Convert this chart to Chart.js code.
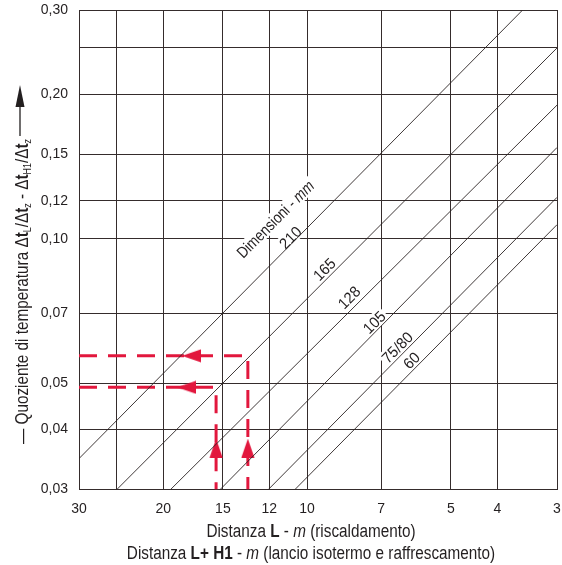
<!DOCTYPE html>
<html><head><meta charset="utf-8">
<script src="https://cdn.jsdelivr.net/npm/chart.js@4.4.1/dist/chart.umd.min.js"></script>
<style>html,body{margin:0;padding:0;background:#fff}#wrap{width:562px;height:565px;position:relative}</style>
</head><body><div id="wrap"><canvas id="c" width="562" height="565"></canvas></div>
<script>
// ---- data ----
const xTicks = [30, 25, 20, 15, 12, 10, 7, 5, 4, 3];
const yTicks = [0.30, 0.25, 0.20, 0.15, 0.12, 0.10, 0.07, 0.05, 0.04, 0.03];
const sizeNames = ['210', '165', '128', '105', '75/80', '60'];
const line210 = [{x: 30, y: 0.0348}, {x: 3.54, y: 0.30}];
const line165 = [{x: 25, y: 0.03}, {x: 3, y: 0.25}];
const line128 = [{x: 19.3, y: 0.03}, {x: 3, y: 0.19}];
const line105 = [{x: 15.2, y: 0.03}, {x: 3, y: 0.155}];
const line7580 = [{x: 12.05, y: 0.03}, {x: 3, y: 0.122}];
const line60 = [{x: 10.6, y: 0.03}, {x: 3, y: 0.107}];
const pathUpper = [{x: 30, y: 0.057}, {x: 13.3, y: 0.057}, {x: 13.3, y: 0.03}];
const pathLower = [{x: 30, y: 0.049}, {x: 15.5, y: 0.049}, {x: 15.5, y: 0.03}];
const arrowsLeft = [{x: 17.45, y: 0.057}, {x: 17.87, y: 0.049}];
const arrowsUp = [{x: 13.3, y: 0.0366}, {x: 15.5, y: 0.0366}];
// label anchors (data coordinates): "Dimensioni - mm", then one per size
const labelAnchorsX = [11.66, 10.85, 9.21, 8.17, 7.24, 6.48, 6.05];
const labelAnchorsY = [0.110, 0.1007, 0.0864, 0.0755, 0.067, 0.0594, 0.0558];

const FAM = '"Liberation Sans", Arial, sans-serif';
const GRID = '#352c2c';
const RED = '#e2173d';
const TXT = '#231f20';

// arrowhead marker (points up; rotated by Chart.js for the left arrows)
const arrowImg = document.createElement('canvas');
arrowImg.width = 14; arrowImg.height = 19;
(function () {
  const g = arrowImg.getContext('2d');
  g.fillStyle = RED;
  g.beginPath(); g.moveTo(7, 0); g.lineTo(13.5, 19); g.lineTo(0.5, 19); g.closePath(); g.fill();
})();

function runFont(r, size) {
  return (r.i ? 'italic ' : '') + (r.b ? 'bold ' : '') + size + 'px ' + FAM;
}
function measureRuns(ctx, runs, size, sx) {
  let w = 0;
  for (const r of runs) {
    const s = r.sub ? size * 0.58 : size;
    ctx.font = runFont(r, s);
    w += ctx.measureText(r.t).width * sx;
  }
  return w;
}
function drawRuns(ctx, runs, x, y, size, sx) {
  let cx = x;
  for (const r of runs) {
    const s = r.sub ? size * 0.58 : size;
    ctx.font = runFont(r, s);
    ctx.save();
    ctx.translate(cx, y + (r.sub ? size * 0.22 : 0));
    ctx.scale(sx, 1);
    ctx.fillText(r.t, 0, 0);
    ctx.restore();
    cx += ctx.measureText(r.t).width * sx;
  }
  return cx;
}

const labelRuns = [
  {runs: [{t: 'Dimensioni - '}, {t: 'mm', i: 1}], size: 16, sx: 0.85},
].concat(sizeNames.map(n => ({runs: [{t: n}], size: 15.5, sx: 0.95})));

const labelPlugin = {
  id: 'lineLabels',
  beforeDatasetsDraw(chart) {
    const {ctx, scales: {x, y}} = chart;
    labelRuns.forEach((l, i) => {
      const px = x.getPixelForValue(labelAnchorsX[i]);
      const py = y.getPixelForValue(labelAnchorsY[i]);
      ctx.save();
      ctx.translate(px, py);
      ctx.rotate(-Math.PI / 4);
      const w = measureRuns(ctx, l.runs, l.size, l.sx);
      ctx.fillStyle = '#fff';
      ctx.fillRect(-w / 2 - 2, -l.size * 0.5, w + 4, l.size * 1.0);
      ctx.restore();
    });
  },
  afterDatasetsDraw(chart) {
    const {ctx, scales: {x, y}} = chart;
    labelRuns.forEach((l, i) => {
      const px = x.getPixelForValue(labelAnchorsX[i]);
      const py = y.getPixelForValue(labelAnchorsY[i]);
      ctx.save();
      ctx.translate(px, py);
      ctx.rotate(-Math.PI / 4);
      ctx.fillStyle = TXT;
      ctx.textBaseline = 'alphabetic';
      const w = measureRuns(ctx, l.runs, l.size, l.sx);
      drawRuns(ctx, l.runs, -w / 2, l.size * 0.36, l.size, l.sx);
      ctx.restore();
    });
  },
  afterDraw(chart) {
    const {ctx} = chart;
    ctx.save();
    ctx.fillStyle = TXT;
    ctx.textBaseline = 'alphabetic';
    const cx = 311;
    const fs = 18, sx = 0.85;
    const l1 = [{t: 'Distanza '}, {t: 'L', b: 1}, {t: ' - '}, {t: 'm', i: 1}, {t: ' (riscaldamento)'}];
    const l2 = [{t: 'Distanza '}, {t: 'L+ H1', b: 1}, {t: ' - '}, {t: 'm', i: 1}, {t: ' (lancio isotermo e raffrescamento)'}];
    let w = measureRuns(ctx, l1, fs, sx);
    drawRuns(ctx, l1, cx - w / 2, 537, fs, sx);
    w = measureRuns(ctx, l2, fs, sx);
    drawRuns(ctx, l2, cx - w / 2, 559, fs, sx);
    // y title (rotated, reading bottom to top)
    const yt = [{t: '— Quoziente di temperatura '}, {t: 'Δ'}, {t: 't', b: 1}, {t: 'L', sub: 1}, {t: '/Δ'}, {t: 't', b: 1}, {t: 'z', sub: 1},
      {t: ' - Δ'}, {t: 't', b: 1}, {t: 'H1', sub: 1}, {t: '/Δ'}, {t: 't', b: 1}, {t: 'z', sub: 1}];
    const baseX = 27.5, startY = 444;
    ctx.translate(baseX, startY);
    ctx.rotate(-Math.PI / 2);
    const end = drawRuns(ctx, yt, 0, 0, fs, sx);
    const tip = startY - 85;
    const ly = -7.5;
    ctx.strokeStyle = TXT;
    ctx.lineWidth = 1.3;
    ctx.beginPath();
    ctx.moveTo(end + 3, ly);
    ctx.lineTo(tip - 20, ly);
    ctx.stroke();
    ctx.beginPath();
    ctx.moveTo(tip, ly);
    ctx.lineTo(tip - 22, ly - 4.5);
    ctx.lineTo(tip - 22, ly + 4.5);
    ctx.closePath();
    ctx.fill();
    ctx.restore();
  }
};

function lineDs(data) {
  return {data, showLine: true, borderColor: '#2a2222', borderWidth: 0.9, pointRadius: 0, fill: false};
}

const cfg = {
  type: 'scatter',
  data: {
    datasets: [
      lineDs(line210), lineDs(line165), lineDs(line128), lineDs(line105), lineDs(line7580), lineDs(line60),
      {data: pathUpper, showLine: true, borderColor: RED, borderWidth: 3, borderDash: [18, 11], pointRadius: 0, fill: false},
      {data: pathLower, showLine: true, borderColor: RED, borderWidth: 3, borderDash: [18, 11], pointRadius: 0, fill: false},
      {data: arrowsLeft, showLine: false, pointStyle: arrowImg, pointRadius: 8, pointRotation: 270, backgroundColor: RED, borderWidth: 0, pointBorderWidth: 0},
      {data: arrowsUp, showLine: false, pointStyle: arrowImg, pointRadius: 8, pointRotation: 0, backgroundColor: RED, borderWidth: 0, pointBorderWidth: 0}
    ]
  },
  options: {
    responsive: false,
    animation: false,
    devicePixelRatio: 1,
    layout: {autoPadding: false, padding: {left: 0, right: 5, top: 10, bottom: 0}},
    plugins: {legend: {display: false}, tooltip: {enabled: false}},
    scales: {
      x: {
        type: 'logarithmic', reverse: true, min: 3, max: 30,
        afterBuildTicks: s => { s.ticks = xTicks.map(v => ({value: v})); },
        afterFit: s => { s.height = 75.5; s.paddingLeft = 0; s.paddingRight = 0; },
        grid: {color: GRID, lineWidth: 1, drawTicks: false},
        border: {display: true, color: GRID},
        ticks: {autoSkip: false, maxRotation: 0, padding: 11, color: TXT, font: {family: FAM, size: 14},
          callback: v => (v === 25 ? '' : String(v))}
      },
      y: {
        type: 'logarithmic', min: 0.03, max: 0.30,
        afterBuildTicks: s => { s.ticks = yTicks.map(v => ({value: v})); },
        afterFit: s => { s.width = 79; s.paddingTop = 0; s.paddingBottom = 0; },
        grid: {color: GRID, lineWidth: 1, drawTicks: false},
        border: {display: true, color: GRID},
        ticks: {autoSkip: false, padding: 11, color: TXT, font: {family: FAM, size: 14},
          callback: v => (Math.abs(v - 0.25) < 1e-9 ? '' : v.toFixed(2).replace('.', ','))}
      }
    }
  },
  plugins: [labelPlugin]
};
new Chart(document.getElementById('c'), cfg);
</script></body></html>
